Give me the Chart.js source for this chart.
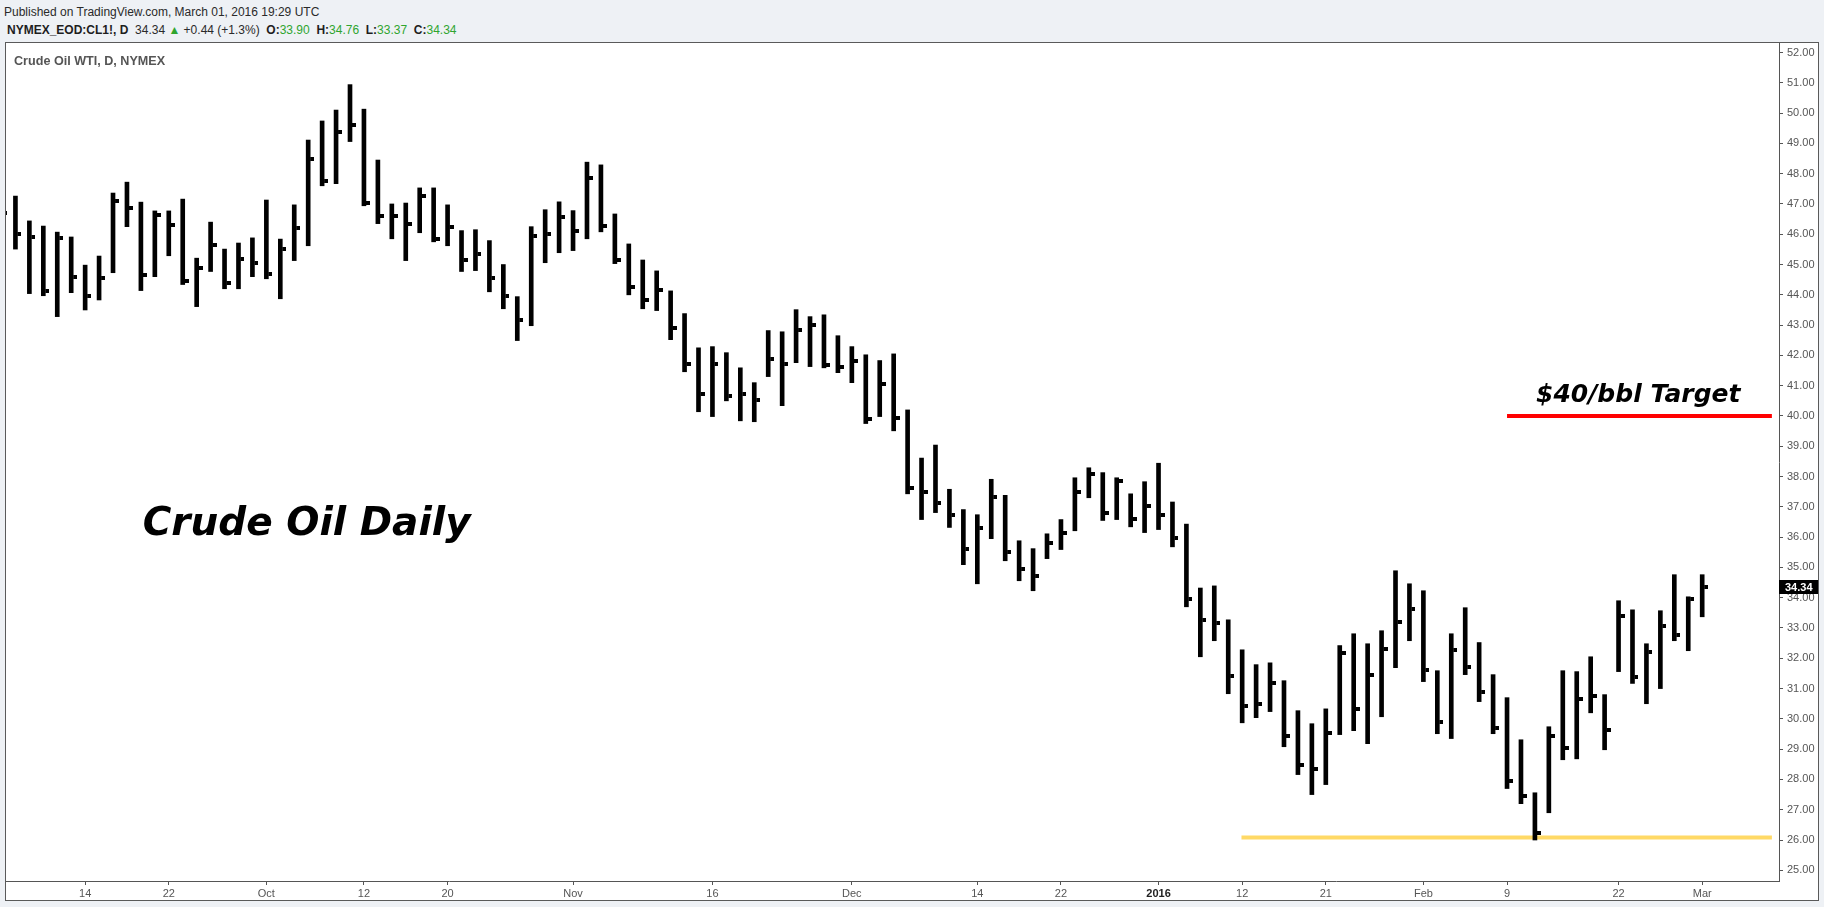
<!DOCTYPE html>
<html>
<head>
<meta charset="utf-8">
<title>Crude Oil WTI, D, NYMEX</title>
<script src="https://cdn.jsdelivr.net/npm/chart.js@4.4.1/dist/chart.umd.min.js"></script>
<style>
  html, body { margin: 0; padding: 0; width: 1824px; height: 907px; overflow: hidden; background: #eef1f5; }
  .hdr { position: absolute; white-space: nowrap; font-family: 'Liberation Sans', Arial, sans-serif; font-size: 12px; color: #2a2a2a; }
  #pub { left: 4px; top: 5px; }
  #sym { left: 7px; top: 23px; }
  #sym b { color: #1e1e1e; }
  .g { color: #2fa52f; }
  #frame { position: absolute; left: 5px; top: 42px; width: 1812px; height: 857px; border: 1px solid #5a5a5a; background: #fff; }
  #frame canvas { position: absolute; left: 0; top: 0; }
  #title { position: absolute; left: 8px; top: 11px; font: bold 12.6px 'Liberation Sans', Arial, sans-serif; color: #555; z-index: 2; }
</style>
</head>
<body>
<div class="hdr" id="pub">Published on TradingView.com, March 01, 2016 19:29 UTC</div>
<div class="hdr" id="sym"><b>NYMEX_EOD:CL1!, D</b>&nbsp; 34.34 <span class="g">&#9650;</span> +0.44 (+1.3%) &nbsp;<b>O:</b><span class="g">33.90</span>&nbsp; <b>H:</b><span class="g">34.76</span>&nbsp; <b>L:</b><span class="g">33.37</span>&nbsp; <b>C:</b><span class="g">34.34</span></div>
<div id="frame">
  <div id="title">Crude Oil WTI, D, NYMEX</div>
  <canvas id="chart" width="1812" height="857"></canvas>
</div>
<script>
// daily sessions, Sep 3 2015 .. Mar 1 2016 (first one is cut off at the left edge)
const dates = [
  '2015-09-03', '2015-09-04', '2015-09-08', '2015-09-09', '2015-09-10', '2015-09-11', '2015-09-14', '2015-09-15',
  '2015-09-16', '2015-09-17', '2015-09-18', '2015-09-21', '2015-09-22', '2015-09-23', '2015-09-24', '2015-09-25',
  '2015-09-28', '2015-09-29', '2015-09-30', '2015-10-01', '2015-10-02', '2015-10-05', '2015-10-06', '2015-10-07',
  '2015-10-08', '2015-10-09', '2015-10-12', '2015-10-13', '2015-10-14', '2015-10-15', '2015-10-16', '2015-10-19',
  '2015-10-20', '2015-10-21', '2015-10-22', '2015-10-23', '2015-10-26', '2015-10-27', '2015-10-28', '2015-10-29',
  '2015-10-30', '2015-11-02', '2015-11-03', '2015-11-04', '2015-11-05', '2015-11-06', '2015-11-09', '2015-11-10',
  '2015-11-11', '2015-11-12', '2015-11-13', '2015-11-16', '2015-11-17', '2015-11-18', '2015-11-19', '2015-11-20',
  '2015-11-23', '2015-11-24', '2015-11-25', '2015-11-27', '2015-11-30', '2015-12-01', '2015-12-02', '2015-12-03',
  '2015-12-04', '2015-12-07', '2015-12-08', '2015-12-09', '2015-12-10', '2015-12-11', '2015-12-14', '2015-12-15',
  '2015-12-16', '2015-12-17', '2015-12-18', '2015-12-21', '2015-12-22', '2015-12-23', '2015-12-24', '2015-12-28',
  '2015-12-29', '2015-12-30', '2015-12-31', '2016-01-04', '2016-01-05', '2016-01-06', '2016-01-07', '2016-01-08',
  '2016-01-11', '2016-01-12', '2016-01-13', '2016-01-14', '2016-01-15', '2016-01-19', '2016-01-20', '2016-01-21',
  '2016-01-22', '2016-01-25', '2016-01-26', '2016-01-27', '2016-01-28', '2016-01-29', '2016-02-01', '2016-02-02',
  '2016-02-03', '2016-02-04', '2016-02-05', '2016-02-08', '2016-02-09', '2016-02-10', '2016-02-11', '2016-02-12',
  '2016-02-16', '2016-02-17', '2016-02-18', '2016-02-19', '2016-02-22', '2016-02-23', '2016-02-24', '2016-02-25',
  '2016-02-26', '2016-02-29', '2016-03-01'
];

const highs = [
  47.40, 47.26, 46.44, 46.27, 46.07, 45.91, 44.98, 45.28, 47.36, 47.72, 47.06, 46.77, 46.77, 47.16, 45.21, 46.40,
  45.51, 45.71, 45.88, 47.13, 45.84, 46.97, 49.11, 49.74, 50.10, 50.94, 50.13, 48.45, 47.00, 47.03, 47.53, 47.53,
  46.97, 46.12, 46.15, 45.79, 45.00, 43.94, 46.25, 46.81, 47.07, 46.78, 48.38, 48.29, 46.67, 45.68, 45.15, 44.79,
  44.13, 43.38, 42.25, 42.29, 42.09, 41.59, 41.10, 42.82, 42.78, 43.51, 43.28, 43.34, 42.65, 42.29, 42.02, 41.83,
  42.05, 40.20, 38.61, 39.04, 37.58, 36.91, 36.74, 37.91, 37.38, 35.88, 35.62, 36.11, 36.58, 37.96, 38.29, 38.13,
  37.96, 37.43, 37.83, 38.44, 37.16, 36.43, 34.32, 34.39, 33.27, 32.28, 31.79, 31.85, 31.26, 30.27, 29.84, 30.33,
  32.42, 32.81, 32.48, 32.91, 34.89, 34.46, 34.23, 31.59, 32.81, 33.67, 32.52, 31.46, 30.70, 29.31, 27.56, 29.74,
  31.59, 31.56, 32.05, 30.80, 33.90, 33.60, 32.48, 33.57, 34.76, 34.03, 34.76
];

const lows = [
  45.90, 45.51, 44.04, 43.97, 43.28, 44.07, 43.50, 43.83, 44.73, 46.25, 44.14, 44.60, 45.29, 44.34, 43.61, 44.77,
  44.20, 44.20, 44.60, 44.53, 43.87, 45.13, 45.62, 47.60, 47.67, 49.06, 46.94, 46.35, 45.85, 45.13, 46.05, 45.75,
  45.62, 44.77, 44.80, 44.10, 43.54, 42.49, 42.98, 45.06, 45.39, 45.46, 45.85, 46.08, 45.03, 44.00, 43.54, 43.48,
  42.52, 41.46, 40.14, 39.98, 40.50, 39.84, 39.81, 41.30, 40.34, 41.76, 41.63, 41.59, 41.43, 41.10, 39.75, 39.98,
  39.51, 37.43, 36.58, 36.81, 36.32, 35.09, 34.46, 35.95, 35.22, 34.56, 34.23, 35.29, 35.59, 36.21, 37.30, 36.55,
  36.58, 36.34, 36.15, 36.25, 35.68, 33.70, 32.05, 32.58, 30.83, 29.87, 30.04, 30.24, 29.08, 28.16, 27.50, 27.83,
  29.48, 29.61, 29.18, 30.07, 31.69, 32.58, 31.23, 29.51, 29.35, 31.46, 30.57, 29.51, 27.70, 27.20, 26.00, 26.90,
  28.65, 28.68, 30.20, 28.98, 31.56, 31.17, 30.50, 31.00, 32.58, 32.25, 33.37
];

const closes = [
  46.71, 46.02, 45.92, 44.14, 45.89, 44.60, 43.97, 44.57, 47.11, 46.88, 44.67, 46.65, 46.32, 44.47, 44.89, 45.66,
  44.40, 45.19, 45.06, 44.70, 45.52, 46.22, 48.49, 47.77, 49.39, 49.61, 47.04, 46.61, 46.61, 46.35, 47.25, 45.85,
  46.25, 45.16, 45.36, 44.57, 43.97, 43.18, 45.95, 46.02, 46.58, 46.12, 47.87, 46.27, 45.16, 44.27, 43.84, 44.17,
  42.91, 41.73, 40.74, 41.73, 40.67, 40.74, 40.54, 41.89, 41.73, 42.85, 43.01, 41.69, 41.63, 41.83, 39.91, 41.07,
  39.94, 37.63, 37.50, 37.14, 36.74, 35.62, 36.31, 37.33, 35.52, 34.96, 34.73, 35.82, 36.15, 37.50, 38.09, 36.81,
  37.86, 36.61, 37.04, 36.74, 35.98, 33.97, 33.27, 33.18, 31.43, 30.44, 30.50, 31.19, 29.44, 28.49, 28.36, 29.54,
  32.18, 30.33, 31.46, 32.32, 33.21, 33.64, 31.62, 29.91, 32.28, 31.72, 30.90, 29.71, 27.96, 27.46, 26.24, 29.44,
  29.05, 30.67, 30.77, 29.64, 33.41, 31.39, 32.22, 33.08, 32.78, 33.97, 34.34
];

const tickDates = ['2015-09-14', '2015-09-22', '2015-10-01', '2015-10-12', '2015-10-20', '2015-11-02', '2015-11-16',
  '2015-12-01', '2015-12-14', '2015-12-22', '2016-01-04', '2016-01-12', '2016-01-21', '2016-02-01', '2016-02-09',
  '2016-02-22', '2016-03-01'];
const tickLabels = ['14', '22', 'Oct', '12', '20', 'Nov', '16', 'Dec', '14', '22', '2016', '12', '21', 'Feb', '9', '22', 'Mar'];
const priceTicks = [25, 26, 27, 28, 29, 30, 31, 32, 33, 34, 35, 36, 37, 38, 39, 40, 41, 42, 43, 44, 45, 46, 47, 48, 49, 50, 51, 52];

const lastPrice = 34.34;
const targetLevel = 40;
const targetFrom = '2016-02-09';
const supportLevel = 26.08;
const supportFrom = '2016-01-12';

const tickIdx = tickDates.map(d => dates.indexOf(d));

// close tick: small block on the right side of the bar
function closeTick() {
    const c = document.createElement('canvas');
    c.width = 12;
    c.height = 4;
    const g = c.getContext('2d');
    g.fillStyle = '#000';
    g.fillRect(8, 0, 4, 4);
    return c;
}

const notes = {
    id: 'notes',
    afterDatasetsDraw(chart) {
        const { ctx, scales: { x, y } } = chart;
        ctx.save();
        ctx.fillStyle = '#000';
        ctx.textBaseline = 'alphabetic';
        ctx.textAlign = 'left';
        ctx.font = 'italic bold 39px "DejaVu Sans"';
        ctx.fillText('Crude Oil Daily', x.getPixelForValue(10.13), y.getPixelForValue(36.07));
        ctx.font = 'italic bold 25px "DejaVu Sans"';
        ctx.fillText('$40/bbl Target', x.getPixelForValue(110.08), y.getPixelForValue(40.47));
        ctx.restore();
    },
    afterDraw(chart) {
        const { ctx, chartArea, scales: { y } } = chart;
        const py = Math.round(y.getPixelForValue(lastPrice));
        ctx.save();
        ctx.fillStyle = '#000';
        ctx.fillRect(chartArea.right, py - 7, chart.width - chartArea.right, 14);
        ctx.fillStyle = '#fff';
        ctx.font = 'bold 11px "Liberation Sans"';
        ctx.textBaseline = 'middle';
        ctx.fillText(lastPrice.toFixed(2), chartArea.right + 6, py + 0.5);
        ctx.restore();
    }
};

const axisFont = { family: 'Liberation Sans', size: 11 };

new Chart(document.getElementById('chart'), {
    type: 'bar',
    data: {
        datasets: [
            {
                type: 'bar',
                data: dates.map((d, i) => ({ x: i, y: [lows[i], highs[i]] })),
                backgroundColor: '#000',
                borderWidth: 0,
                barThickness: 4,
                grouped: false
            },
            {
                type: 'scatter',
                data: dates.map((d, i) => ({ x: i, y: closes[i] })),
                pointStyle: closeTick(),
                pointRadius: 10,
                pointHoverRadius: 10
            },
            {
                type: 'line',
                data: [{ x: dates.indexOf(targetFrom), y: targetLevel }, { x: 127, y: targetLevel }],
                borderColor: '#ff0000',
                borderWidth: 4,
                pointRadius: 0
            },
            {
                type: 'line',
                data: [{ x: dates.indexOf(supportFrom) - 0.05, y: supportLevel }, { x: 127, y: supportLevel }],
                borderColor: '#ffd966',
                borderWidth: 4,
                pointRadius: 0
            }
        ]
    },
    options: {
        responsive: false,
        animation: false,
        devicePixelRatio: 1,
        events: [],
        layout: { padding: 0, autoPadding: false },
        plugins: { legend: { display: false }, tooltip: { enabled: false } },
        scales: {
            x: {
                type: 'linear',
                offset: false,
                min: 0.323,
                max: 127.51,
                grid: { offset: false, drawOnChartArea: false, drawTicks: true, tickLength: 4, color: '#555' },
                border: { display: true, color: '#555' },
                ticks: {
                    autoSkip: false,
                    maxRotation: 0,
                    padding: 2,
                    color: c => (c.tick && c.tick.value === tickIdx[10] ? '#222' : '#555'),
                    font: c => ({ ...axisFont, weight: c.tick && c.tick.value === tickIdx[10] ? 'bold' : 'normal' }),
                    callback: (v, i) => tickLabels[i]
                },
                afterBuildTicks: s => { s.ticks = tickIdx.map(v => ({ value: v })); },
                afterFit: s => { s.height = 19; s.paddingLeft = 0; s.paddingRight = 0; }
            },
            y: {
                position: 'right',
                min: 24.647,
                max: 52.314,
                grid: { drawOnChartArea: false, drawTicks: true, tickLength: 4, color: '#555' },
                border: { display: true, color: '#555' },
                ticks: {
                    padding: 4,
                    color: '#555',
                    font: axisFont,
                    callback: v => v.toFixed(2)
                },
                afterBuildTicks: s => { s.ticks = priceTicks.map(v => ({ value: v })); },
                afterFit: s => { s.width = 39; s.paddingTop = 0; s.paddingBottom = 0; }
            }
        }
    },
    plugins: [notes]
});
</script>
</body>
</html>
